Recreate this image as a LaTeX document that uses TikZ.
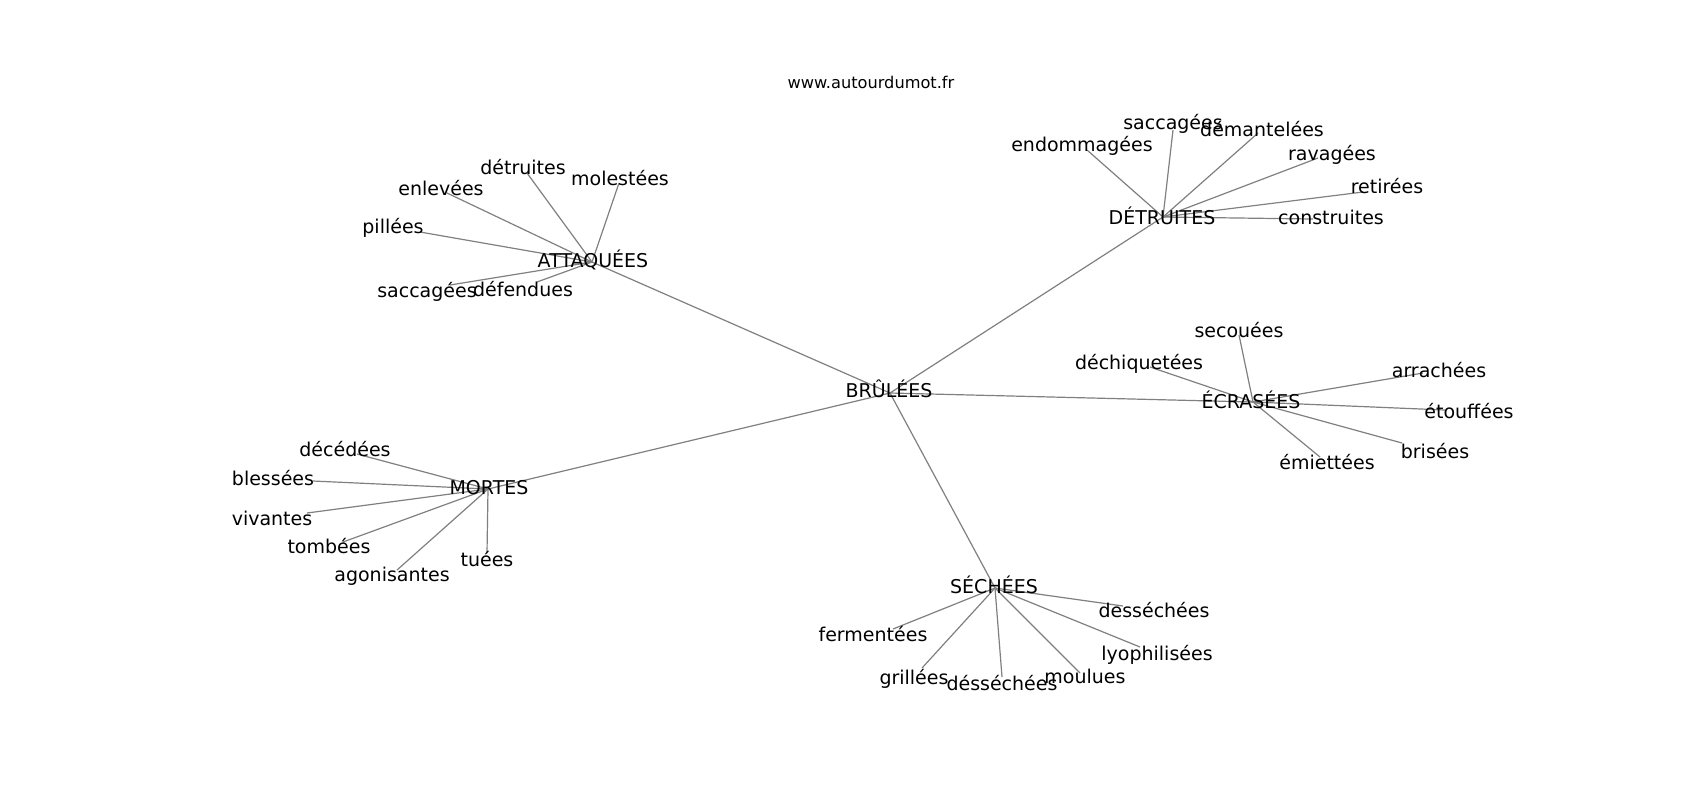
\documentclass[tikz,border=0pt]{standalone}
\usepackage{fontspec}
\setmainfont{DejaVu Sans}
\usetikzlibrary{positioning}

\tikzset{
  word/.style={font=\fontsize{9.5}{11}\selectfont, inner sep=0pt, text height=0.73em, text depth=0pt},
  site/.style={font=\fontsize{8.1}{10}\selectfont, inner sep=0pt},
  link/.style={draw=gray, line width=0.6pt}
}

\begin{document}
\begin{tikzpicture}[x=0.5pt,y=-0.5pt]
  \useasboundingbox[fill=white] (0,0) rectangle (1700,800);
  \node[site] (site) at (871,82) {www.autourdumot.fr};

  % hubs
  \coordinate (brulees)   at (890,393);
  \coordinate (attaquees) at (592,262);
  \coordinate (detruites) at (1163,217);
  \coordinate (ecrasees)  at (1253,402);
  \coordinate (mortes)    at (488,489);
  \coordinate (sechees)   at (995,588);

  % attaquees
  \coordinate (a-detruites) at (527,173);
  \coordinate (a-molestees) at (619,183);
  \coordinate (a-enlevees)  at (447,193);
  \coordinate (a-pillees)   at (420,232);
  \coordinate (a-saccagees) at (450,285);
  \coordinate (a-defendues) at (537,282);
  % detruites
  \coordinate (d-endommagees) at (1087,150);
  \coordinate (d-saccagees)   at (1173,130);
  \coordinate (d-demantelees) at (1258,133);
  \coordinate (d-ravagees)    at (1318,158);
  \coordinate (d-retirees)    at (1363,192);
  \coordinate (d-construites) at (1313,219);
  % ecrasees
  \coordinate (e-secouees)     at (1239,335);
  \coordinate (e-dechiquetees) at (1150,367);
  \coordinate (e-arrachees)    at (1423,373);
  \coordinate (e-etouffees)    at (1445,410);
  \coordinate (e-brisees)      at (1402,443);
  \coordinate (e-emiettees)    at (1320,457);
  % mortes
  \coordinate (m-decedees)    at (357,454);
  \coordinate (m-blessees)    at (313,481);
  \coordinate (m-vivantes)    at (307,513);
  \coordinate (m-tombees)     at (343,542);
  \coordinate (m-agonisantes) at (397,570);
  \coordinate (m-tuees)       at (487,553);
  % sechees
  \coordinate (s-dessechees)   at (1123,606);
  \coordinate (s-fermentees)   at (893,629);
  \coordinate (s-grillees)     at (922,668);
  \coordinate (s-desssechees)  at (1002,677);
  \coordinate (s-moulues)      at (1080,673);
  \coordinate (s-lyophilisees) at (1140,647);

  \path[link] (brulees) edge (attaquees) edge (detruites) edge (ecrasees)
                        edge (mortes) edge (sechees)
    (attaquees) edge (a-detruites) edge (a-molestees) edge (a-enlevees)
                edge (a-pillees) edge (a-saccagees) edge (a-defendues)
    (detruites) edge (d-endommagees) edge (d-saccagees) edge (d-demantelees)
                edge (d-ravagees) edge (d-retirees) edge (d-construites)
    (ecrasees) edge (e-secouees) edge (e-dechiquetees) edge (e-arrachees)
               edge (e-etouffees) edge (e-brisees) edge (e-emiettees)
    (mortes) edge (m-decedees) edge (m-blessees) edge (m-vivantes)
             edge (m-tombees) edge (m-agonisantes) edge (m-tuees)
    (sechees) edge (s-dessechees) edge (s-fermentees) edge (s-grillees)
              edge (s-desssechees) edge (s-moulues) edge (s-lyophilisees);

  % labels
  \node[word] (brulees-t)   at (889,390)  {BRÛLÉES};
  \node[word] (attaquees-t) at (593,260)  {ATTAQUÉES};
  \node[word] (detruites-t) at (1162,217) {DÉTRUITES};
  \node[word] (ecrasees-t)  at (1251,401) {ÉCRASÉES};
  \node[word] (mortes-t)    at (489,487)  {MORTES};
  \node[word] (sechees-t)   at (994,586)  {SÉCHÉES};

  \node[word] (a-detruites-t) at (523,167) {détruites};
  \node[word] (a-molestees-t) at (620,178) {molestées};
  \node[word] (a-enlevees-t)  at (441,188) {enlevées};
  \node[word] (a-pillees-t)   at (393,226) {pillées};
  \node[word] (a-saccagees-t) at (427,290) {saccagées};
  \node[word] (a-defendues-t) at (523,289) {défendues};

  \node[word] (d-endommagees-t) at (1082,144) {endommagées};
  \node[word] (d-saccagees-t)   at (1173,122) {saccagées};
  \node[word] (d-demantelees-t) at (1262,129) {démantelées};
  \node[word] (d-ravagees-t)    at (1332,153) {ravagées};
  \node[word] (d-retirees-t)    at (1387,186) {retirées};
  \node[word] (d-construites-t) at (1331,217) {construites};

  \node[word] (e-secouees-t)     at (1239,330) {secouées};
  \node[word] (e-dechiquetees-t) at (1139,362) {déchiquetées};
  \node[word] (e-arrachees-t)    at (1439,370) {arrachées};
  \node[word] (e-etouffees-t)    at (1469,411) {étouffées};
  \node[word] (e-brisees-t)      at (1435,451) {brisées};
  \node[word] (e-emiettees-t)    at (1327,462) {émiettées};

  \node[word] (m-decedees-t)    at (345,449) {décédées};
  \node[word] (m-blessees-t)    at (273,478) {blessées};
  \node[word] (m-vivantes-t)    at (272,518) {vivantes};
  \node[word] (m-tombees-t)     at (329,546) {tombées};
  \node[word] (m-agonisantes-t) at (392,574) {agonisantes};
  \node[word] (m-tuees-t)       at (487,559) {tuées};

  \node[word] (s-dessechees-t)   at (1154,610) {desséchées};
  \node[word] (s-fermentees-t)   at (873,634)  {fermentées};
  \node[word] (s-grillees-t)     at (914,677)  {grillées};
  \node[word] (s-desssechees-t)  at (1002,683) {désséchées};
  \node[word] (s-moulues-t)      at (1085,676) {moulues};
  \node[word] (s-lyophilisees-t) at (1157,653) {lyophilisées};
\end{tikzpicture}
\end{document}
